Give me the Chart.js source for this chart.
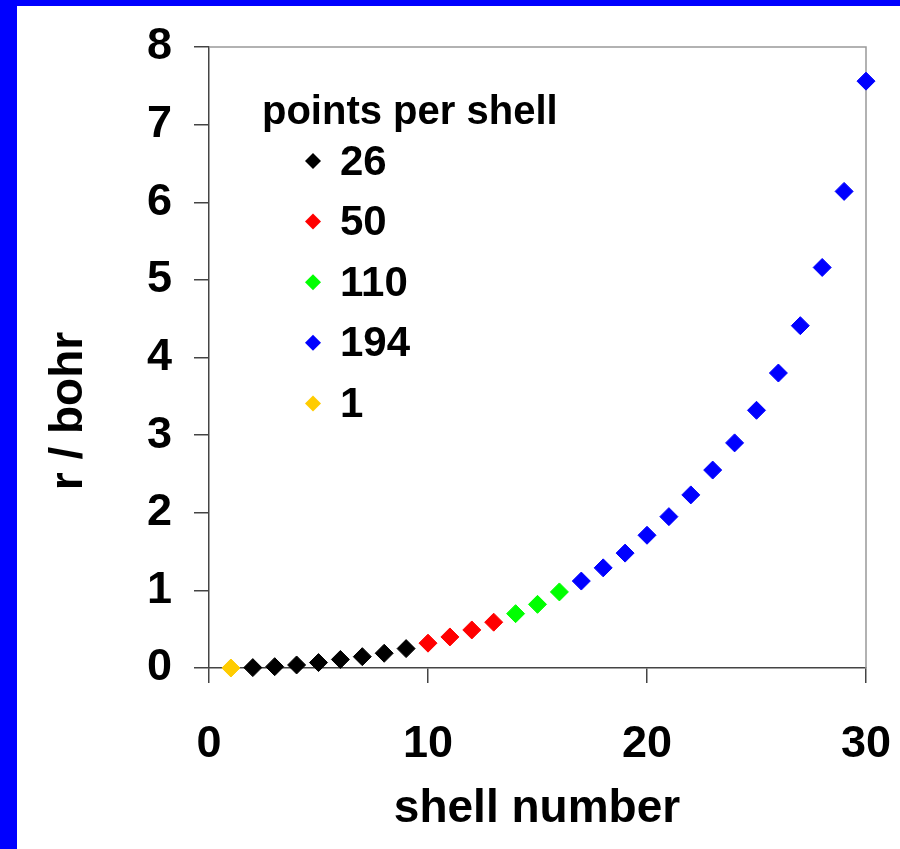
<!DOCTYPE html>
<html>
<head>
<meta charset="utf-8">
<title>shell radii</title>
<script src="https://cdn.jsdelivr.net/npm/chart.js@4.4.0/dist/chart.umd.min.js"></script>
<style>
  html, body {
    margin: 0;
    padding: 0;
    width: 900px;
    height: 849px;
    overflow: hidden;
    background: #0000ff;
  }
  #box {
    position: absolute;
    left: 17px;
    top: 6px;
    width: 883px;
    height: 843px;
    background: #ffffff;
  }
</style>
</head>
<body>
<div id="box"><canvas id="chart"></canvas></div>
<script>
// shell number / radius (bohr), grouped by points per shell
let shells26 = [2, 3, 4, 5, 6, 7, 8, 9];
let radii26 = [0.005, 0.017, 0.039, 0.07, 0.11, 0.146, 0.19, 0.25];
let shells50 = [10, 11, 12, 13];
let radii50 = [0.32, 0.4, 0.49, 0.59];
let shells110 = [14, 15, 16];
let radii110 = [0.7, 0.82, 0.98];
let shells194 = [17, 18, 19, 20, 21, 22, 23, 24, 25, 26, 27, 28, 29, 30];
let radii194 = [1.12, 1.29, 1.48, 1.71, 1.95, 2.23, 2.55, 2.9, 3.32, 3.8, 4.41, 5.16, 6.14, 7.56];
let shells1 = [1];
let radii1 = [0];

let groupLabels = ["26", "50", "110", "194", "1"];
let groupColors = ["#000000", "#ff0000", "#00ff00", "#0000ff", "#ffcc00"];
let groupShells = [shells26, shells50, shells110, shells194, shells1];
let groupRadii = [radii26, radii50, radii110, radii194, radii1];

let legendTitle = "points per shell";
let xTitle = "shell number";
let yTitle = "r / bohr";
let xTicks = [0, 10, 20, 30];
let yTicks = [0, 1, 2, 3, 4, 5, 6, 7, 8];

const FONT = "'Liberation Sans', Arial, sans-serif";
const AXIS = "#444444";

let datasets = groupLabels.map((label, i) => ({
  label: label,
  data: groupShells[i].map((s, j) => ({ x: s, y: groupRadii[i][j] })),
  backgroundColor: groupColors[i],
  borderColor: groupColors[i],
  borderWidth: 1,
  pointStyle: "rectRot",
  pointRadius: 9,
  showLine: false,
  clip: false,
}));

let framePlugin = {
  id: "frame",
  beforeDatasetsDraw(chart) {
    let ctx = chart.ctx;
    let a = chart.chartArea;
    ctx.save();
    ctx.strokeStyle = "#999999";
    ctx.lineWidth = 1.5;
    ctx.beginPath();
    ctx.moveTo(a.left, a.top);
    ctx.lineTo(a.right, a.top);
    ctx.lineTo(a.right, a.bottom);
    ctx.stroke();
    ctx.restore();
  },
  afterDraw(chart) {
    let ctx = chart.ctx;
    ctx.save();
    ctx.fillStyle = "#000000";

    // axis titles
    ctx.font = "bold 46px " + FONT;
    ctx.textAlign = "center";
    ctx.textBaseline = "alphabetic";
    ctx.fillText(xTitle, 520, 816);
    ctx.save();
    ctx.translate(65, 405);
    ctx.rotate(-Math.PI / 2);
    ctx.fillText(yTitle, 0, 0);
    ctx.restore();

    // legend
    ctx.textAlign = "left";
    ctx.font = "bold 40px " + FONT;
    ctx.fillText(legendTitle, 245, 118);
    ctx.font = "bold 42px " + FONT;
    ctx.textBaseline = "middle";
    for (let i = 0; i < groupLabels.length; i++) {
      let y = 155 + i * 60.6;
      let r = 8;
      ctx.fillStyle = groupColors[i];
      ctx.beginPath();
      ctx.moveTo(296 - r, y);
      ctx.lineTo(296, y - r);
      ctx.lineTo(296 + r, y);
      ctx.lineTo(296, y + r);
      ctx.closePath();
      ctx.fill();
      ctx.fillStyle = "#000000";
      ctx.fillText(groupLabels[i], 323, y + 2);
    }
    ctx.restore();
  },
};

let chart = new Chart(document.getElementById("chart"), {
  type: "scatter",
  data: { datasets: datasets },
  options: {
    responsive: true,
    maintainAspectRatio: false,
    animation: false,
    layout: { padding: { top: 41, right: 34, left: 0, bottom: 0 } },
    plugins: {
      legend: { display: false },
      tooltip: { enabled: false },
    },
    scales: {
      x: {
        type: "linear",
        min: 0,
        max: 30,
        afterFit(scale) {
          scale.height = 181;
          scale.paddingLeft = 0;
          scale.paddingRight = 0;
        },
        afterBuildTicks(scale) {
          scale.ticks = xTicks.map((v) => ({ value: v }));
        },
        border: { display: true, color: AXIS, width: 1.5 },
        grid: {
          drawOnChartArea: false,
          drawTicks: true,
          tickLength: 15,
          color: AXIS,
          lineWidth: 1.5,
        },
        ticks: {
          color: "#000000",
          padding: 35,
          maxRotation: 0,
          font: { family: FONT, size: 45, weight: "bold" },
        },
      },
      y: {
        type: "linear",
        min: 0,
        max: 8,
        afterFit(scale) {
          scale.width = 192;
          scale.paddingTop = 0;
          scale.paddingBottom = 0;
        },
        afterBuildTicks(scale) {
          scale.ticks = yTicks.map((v) => ({ value: v }));
        },
        border: { display: true, color: AXIS, width: 1.5 },
        grid: {
          drawOnChartArea: false,
          drawTicks: true,
          tickLength: 15,
          color: AXIS,
          lineWidth: 1.5,
        },
        ticks: {
          color: "#000000",
          padding: 22,
          font: { family: FONT, size: 45, weight: "bold" },
        },
      },
    },
  },
  plugins: [framePlugin],
});
</script>
</body>
</html>
